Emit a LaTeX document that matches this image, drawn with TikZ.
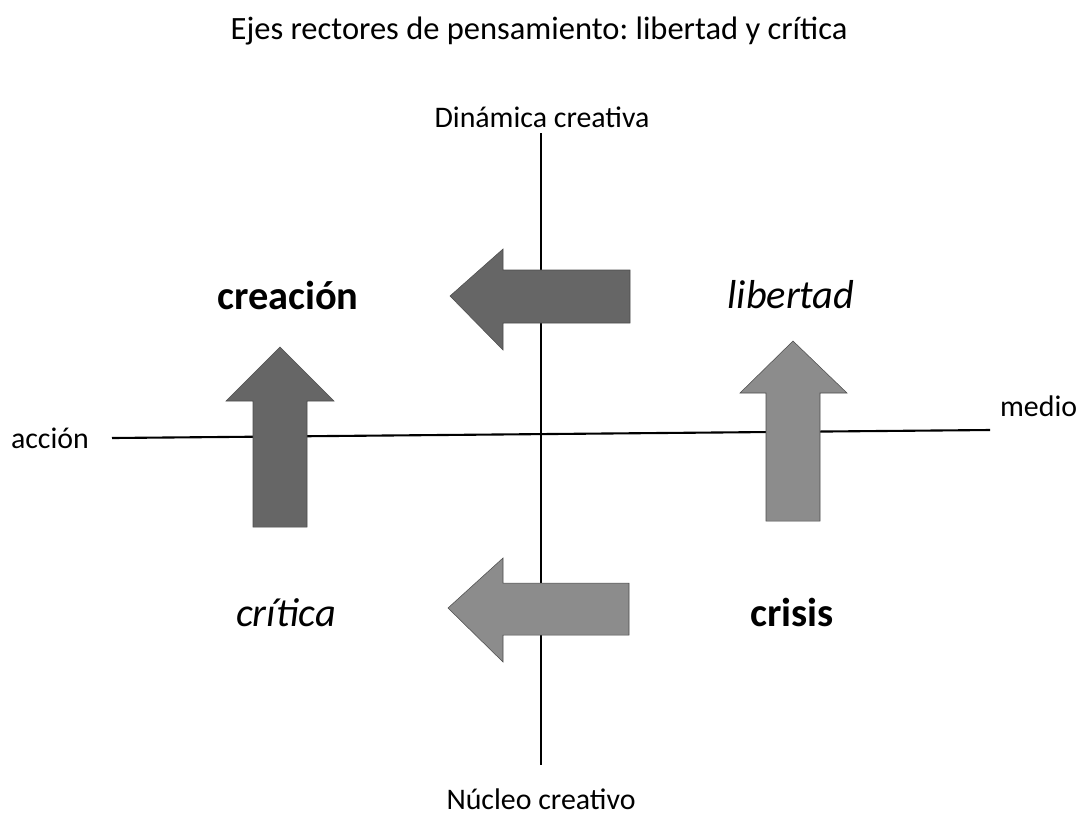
\documentclass[tikz,border=0pt]{standalone}
\usepackage{fontspec}
\setmainfont{Carlito}
\frenchspacing
\usetikzlibrary{math}

\definecolor{darkarrow}{HTML}{666666}
\definecolor{lightarrow}{HTML}{8C8C8C}

\begin{document}
\begin{tikzpicture}[x=0.02cm, y=-0.02cm,
    axis/.style={line width=1.2pt},
    blockarrow/.style={draw=black!70, line width=0.3pt},
    axislabel/.style={font=\fontsize{17}{20}\selectfont, inner sep=1pt},
    biglabel/.style={font=\fontsize{23}{27}\selectfont}]
  \useasboundingbox (0,0) rectangle (1078,816);
  \tikzmath{%
    \cx = 541; \cy = 434;
  }

  \node (title) at (539,31) {\fontsize{18.5}{22}\selectfont Ejes rectores de pensamiento: libertad y crítica};

  % axes
  \coordinate (left) at (112,438);
  \coordinate (right) at (990,430);
  \coordinate (top) at (\cx,133);
  \coordinate (bottom) at (\cx,765);
  \draw[axis] (left) -- (right);
  \draw[axis] (top) -- (bottom);

  \node[axislabel] (dinamica) at (542,117) {Dinámica creativa};
  \node[axislabel] (nucleo) at (541,799) {Núcleo creativo};
  \node[axislabel, anchor=east] (accion) at (91,438) {acción};
  \node[axislabel, anchor=west] (medio) at (998,406) {medio};

  % block arrows
  \draw[blockarrow, fill=darkarrow] (630,270) -- (503,270) -- (503,249) -- (450,296)
    -- (503,350) -- (503,323) -- (630,323) -- cycle;
  \draw[blockarrow, fill=lightarrow] (629,583) -- (503,583) -- (503,558) -- (448,608)
    -- (503,662) -- (503,635) -- (629,635) -- cycle;
  \draw[blockarrow, fill=darkarrow] (253,527) -- (253,401) -- (226,401) -- (280,347)
    -- (334,401) -- (307,401) -- (307,527) -- cycle;
  \draw[blockarrow, fill=lightarrow] (766,521) -- (766,393) -- (740,393) -- (793,341)
    -- (847,393) -- (820,393) -- (820,521) -- cycle;

  % quadrant words
  \node[biglabel] (creacion) at (288,295) {\bfseries creación};
  \node[biglabel] (libertad) at (791,295) {\itshape libertad};
  \node[biglabel] (critica) at (286,613) {\itshape crítica};
  \node[biglabel] (crisis) at (792,612) {\bfseries crisis};
\end{tikzpicture}
\end{document}
